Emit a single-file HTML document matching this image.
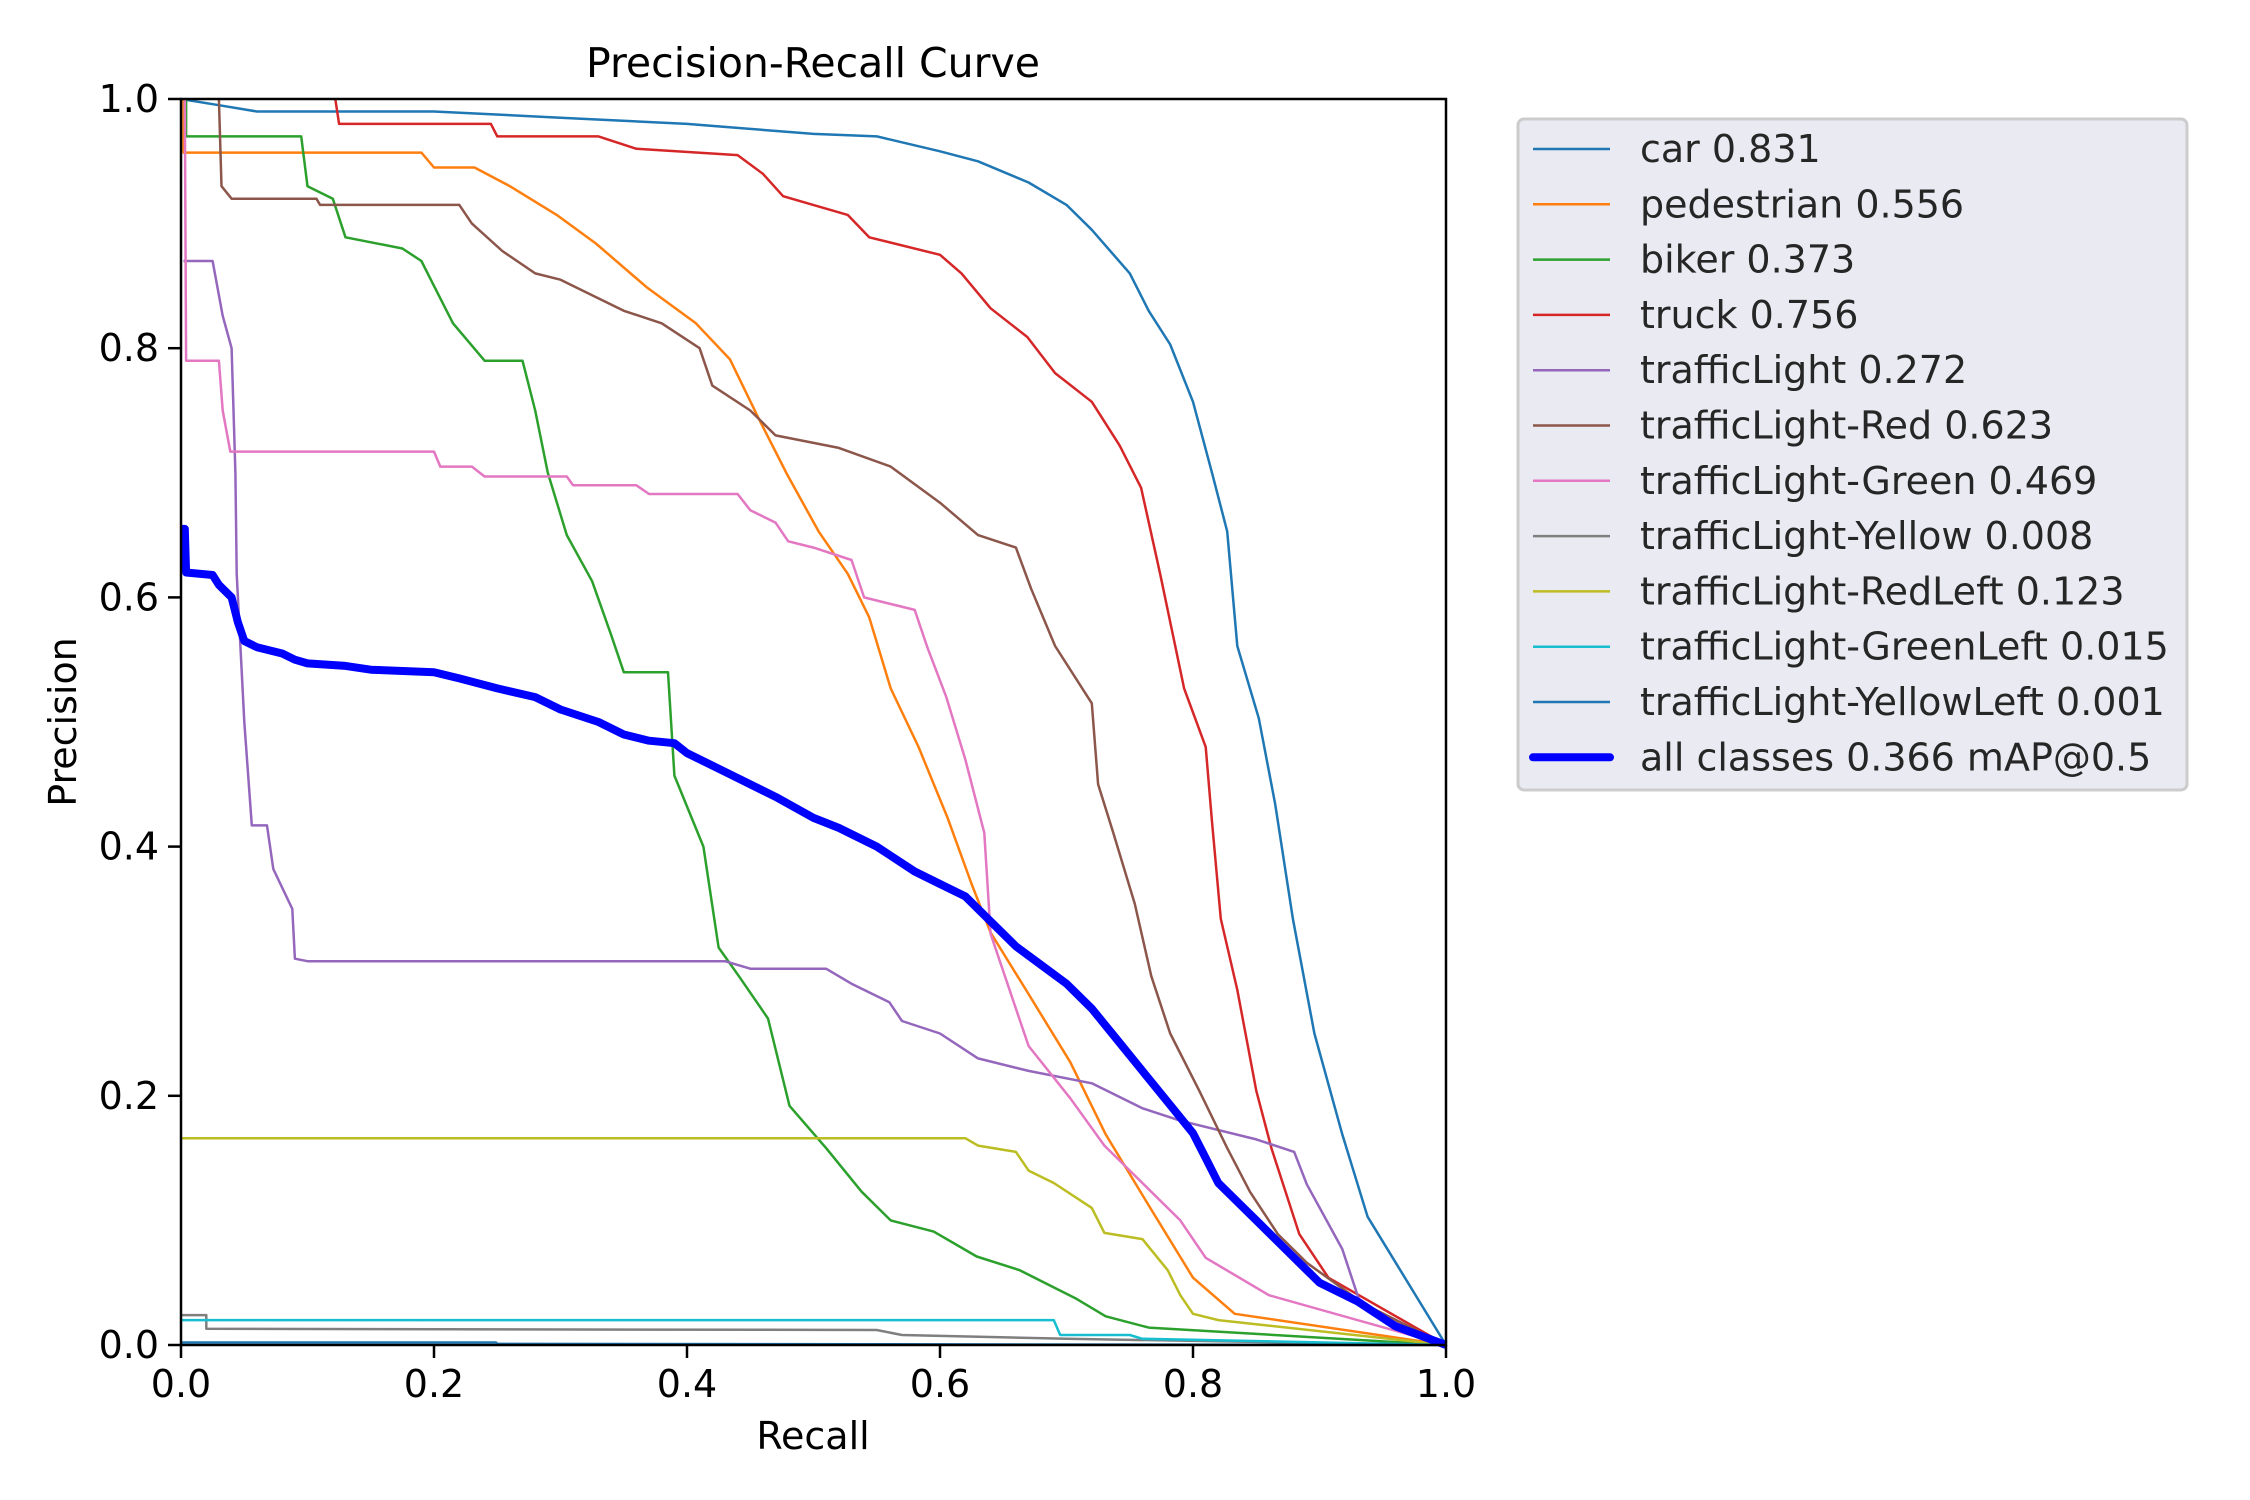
<!DOCTYPE html>
<html><head><meta charset="utf-8"><style>
html,body{margin:0;padding:0;background:#fff}
svg{display:block;font-family:"DejaVu Sans","Liberation Sans",sans-serif}
</style></head><body>
<svg id="chart" width="2250" height="1500" viewBox="0 0 2250 1500" xmlns="http://www.w3.org/2000/svg">
<rect width="2250" height="1500" fill="#fff"/>
<text x="813" y="77" font-size="41" text-anchor="middle" fill="#000">Precision-Recall Curve</text>
<g id="plot"></g>
<g id="axes"></g>
<text x="813" y="1449" font-size="38" text-anchor="middle">Recall</text>
<text x="0" y="0" font-size="38" text-anchor="middle" transform="translate(76,722) rotate(-90)">Precision</text>
<g id="legend"></g>
</svg>
<script>
const ticks = [0, 0.2, 0.4, 0.6, 0.8, 1.0];
const tickLabels = ["0.0", "0.2", "0.4", "0.6", "0.8", "1.0"];
const seriesNames = ["car 0.831","pedestrian 0.556","biker 0.373","truck 0.756","trafficLight 0.272","trafficLight-Red 0.623","trafficLight-Green 0.469","trafficLight-Yellow 0.008","trafficLight-RedLeft 0.123","trafficLight-GreenLeft 0.015","trafficLight-YellowLeft 0.001","all classes 0.366 mAP@0.5"];
const carPts = [[0,1],[0.03,0.995],[0.06,0.99],[0.2,0.99],[0.3,0.985],[0.4,0.98],[0.5,0.972],[0.55,0.97],[0.6,0.958],[0.63,0.95],[0.67,0.933],[0.7,0.915],[0.72,0.895],[0.75,0.86],[0.765,0.83],[0.782,0.803],[0.8,0.757],[0.815,0.7],[0.827,0.653],[0.835,0.561],[0.852,0.503],[0.865,0.434],[0.879,0.342],[0.896,0.25],[0.918,0.169],[0.938,0.103],[1,0]];
const pedPts = [[0.002,1],[0.002,0.957],[0.19,0.957],[0.2,0.945],[0.232,0.945],[0.26,0.93],[0.297,0.907],[0.328,0.884],[0.368,0.849],[0.407,0.82],[0.434,0.791],[0.456,0.745],[0.479,0.699],[0.504,0.653],[0.527,0.619],[0.544,0.584],[0.561,0.527],[0.583,0.48],[0.606,0.423],[0.625,0.37],[0.64,0.331],[0.668,0.285],[0.703,0.227],[0.731,0.169],[0.765,0.112],[0.8,0.054],[0.833,0.025],[1,0]];
const bikerPts = [[0.004,1],[0.004,0.97],[0.095,0.97],[0.1,0.93],[0.12,0.92],[0.13,0.889],[0.175,0.88],[0.19,0.87],[0.2,0.85],[0.215,0.82],[0.24,0.79],[0.27,0.79],[0.28,0.75],[0.29,0.7],[0.305,0.65],[0.325,0.613],[0.34,0.57],[0.35,0.54],[0.385,0.54],[0.39,0.457],[0.413,0.4],[0.425,0.319],[0.441,0.296],[0.464,0.262],[0.481,0.192],[0.51,0.158],[0.538,0.123],[0.561,0.1],[0.595,0.091],[0.629,0.071],[0.663,0.06],[0.708,0.037],[0.731,0.023],[0.765,0.014],[1,0]];
const truckPts = [[0.122,1],[0.125,0.98],[0.245,0.98],[0.25,0.97],[0.33,0.97],[0.36,0.96],[0.44,0.955],[0.46,0.94],[0.476,0.922],[0.527,0.907],[0.544,0.889],[0.6,0.875],[0.617,0.86],[0.64,0.832],[0.669,0.809],[0.691,0.78],[0.72,0.757],[0.742,0.722],[0.759,0.688],[0.774,0.619],[0.793,0.527],[0.81,0.48],[0.815,0.42],[0.822,0.342],[0.835,0.285],[0.85,0.204],[0.862,0.158],[0.884,0.089],[0.907,0.054],[1,0]];
const tlPts = [[0.002,0.87],[0.025,0.87],[0.033,0.826],[0.04,0.8],[0.043,0.7],[0.044,0.619],[0.05,0.5],[0.056,0.417],[0.068,0.417],[0.073,0.382],[0.088,0.35],[0.09,0.31],[0.1,0.308],[0.43,0.308],[0.45,0.302],[0.51,0.302],[0.53,0.29],[0.56,0.275],[0.57,0.26],[0.6,0.25],[0.63,0.23],[0.67,0.22],[0.72,0.21],[0.76,0.19],[0.79,0.18],[0.85,0.165],[0.88,0.155],[0.89,0.129],[0.918,0.077],[0.933,0.031],[1,0]];
const redPts = [[0.03,1],[0.032,0.93],[0.04,0.92],[0.107,0.92],[0.11,0.915],[0.22,0.915],[0.23,0.9],[0.254,0.878],[0.28,0.86],[0.3,0.855],[0.33,0.84],[0.35,0.83],[0.38,0.82],[0.41,0.8],[0.42,0.77],[0.45,0.75],[0.47,0.73],[0.52,0.72],[0.561,0.705],[0.6,0.676],[0.63,0.65],[0.66,0.64],[0.672,0.607],[0.691,0.561],[0.72,0.515],[0.725,0.45],[0.737,0.411],[0.754,0.354],[0.767,0.296],[0.782,0.25],[0.805,0.204],[0.827,0.158],[0.845,0.123],[0.867,0.089],[0.89,0.066],[0.935,0.033],[1,0]];
const greenPts = [[0.003,1],[0.004,0.79],[0.03,0.79],[0.033,0.75],[0.039,0.717],[0.2,0.717],[0.205,0.705],[0.23,0.705],[0.24,0.697],[0.305,0.697],[0.31,0.69],[0.36,0.69],[0.37,0.683],[0.44,0.683],[0.45,0.67],[0.47,0.66],[0.48,0.645],[0.5,0.64],[0.53,0.63],[0.54,0.6],[0.58,0.59],[0.59,0.56],[0.605,0.52],[0.62,0.47],[0.635,0.411],[0.64,0.33],[0.66,0.27],[0.67,0.24],[0.703,0.198],[0.73,0.16],[0.76,0.13],[0.79,0.1],[0.81,0.07],[0.86,0.04],[1,0]];
const yellowPts = [[0,0.024],[0.02,0.024],[0.02,0.013],[0.55,0.012],[0.57,0.008],[0.7,0.005],[1,0]];
const redLeftPts = [[0,0.166],[0.62,0.166],[0.63,0.16],[0.66,0.155],[0.67,0.14],[0.69,0.13],[0.72,0.11],[0.73,0.09],[0.76,0.085],[0.78,0.06],[0.79,0.04],[0.8,0.025],[0.82,0.02],[1,0]];
const greenLeftPts = [[0,0.02],[0.69,0.02],[0.695,0.008],[0.75,0.008],[0.76,0.005],[1,0]];
const yellowLeftPts = [[0,0.002],[0.249,0.002],[0.25,0.001],[1,0]];
const allPts = [[0,0.655],[0.003,0.655],[0.004,0.62],[0.025,0.618],[0.03,0.61],[0.04,0.6],[0.045,0.58],[0.05,0.565],[0.06,0.56],[0.08,0.555],[0.09,0.55],[0.1,0.547],[0.13,0.545],[0.15,0.542],[0.2,0.54],[0.22,0.535],[0.25,0.527],[0.28,0.52],[0.3,0.51],[0.33,0.5],[0.35,0.49],[0.37,0.485],[0.39,0.483],[0.4,0.475],[0.43,0.46],[0.47,0.44],[0.5,0.423],[0.52,0.415],[0.55,0.4],[0.58,0.38],[0.6,0.37],[0.62,0.36],[0.64,0.34],[0.66,0.32],[0.68,0.305],[0.7,0.29],[0.72,0.27],[0.74,0.245],[0.76,0.22],[0.78,0.195],[0.8,0.17],[0.81,0.15],[0.82,0.13],[0.85,0.1],[0.88,0.07],[0.9,0.05],[0.93,0.035],[0.96,0.015],[1,0]];
const allSeries = [carPts,pedPts,bikerPts,truckPts,tlPts,redPts,greenPts,yellowPts,redLeftPts,greenLeftPts,yellowLeftPts,allPts];
const colors = ["#1f77b4","#ff7f0e","#2ca02c","#d62728","#9467bd","#8c564b","#e377c2","#7f7f7f","#bcbd22","#17becf","#1f77b4","#0000ff"];
const slugs = ["car","pedestrian","biker","truck","traffic-light","traffic-light-red","traffic-light-green","traffic-light-yellow","traffic-light-redleft","traffic-light-greenleft","traffic-light-yellowleft","all-classes"];

const L=181,R=1446,T=99,B=1345;
const xs = v => L + v*(R-L);
const ys = v => B - v*(B-T);
const NS="http://www.w3.org/2000/svg";
const plot=document.getElementById('plot');
allSeries.forEach((pts,i)=>{
  const p=document.createElementNS(NS,'polyline');
  p.setAttribute('points',pts.map(d=>xs(d[0]).toFixed(1)+','+ys(d[1]).toFixed(1)).join(' '));
  p.setAttribute('fill','none');
  p.setAttribute('stroke',colors[i]);
  p.setAttribute('stroke-width',i===11?8:2.5);
  p.setAttribute('stroke-linejoin','round');
  
  
  plot.appendChild(p);
});
const axes=document.getElementById('axes');
const frame=document.createElementNS(NS,'rect');
frame.setAttribute('x',L);frame.setAttribute('y',T);frame.setAttribute('width',R-L);frame.setAttribute('height',B-T);
frame.setAttribute('fill','none');frame.setAttribute('stroke','#000');frame.setAttribute('stroke-width',2.5);


axes.appendChild(frame);
ticks.forEach((t,i)=>{
  const tx=document.createElementNS(NS,'line');
  tx.setAttribute('x1',xs(t));tx.setAttribute('x2',xs(t));tx.setAttribute('y1',B);tx.setAttribute('y2',B+13);
  tx.setAttribute('stroke','#000');tx.setAttribute('stroke-width',2.5);
  
  
  axes.appendChild(tx);
  const lx=document.createElementNS(NS,'text');
  lx.setAttribute('x',xs(t));lx.setAttribute('y',B+52);lx.setAttribute('font-size',38);lx.setAttribute('text-anchor','middle');
  lx.textContent=tickLabels[i];
  
  
  axes.appendChild(lx);
  const ty=document.createElementNS(NS,'line');
  ty.setAttribute('x1',L-13);ty.setAttribute('x2',L);ty.setAttribute('y1',ys(t));ty.setAttribute('y2',ys(t));
  ty.setAttribute('stroke','#000');ty.setAttribute('stroke-width',2.5);
  
  
  axes.appendChild(ty);
  const ly=document.createElementNS(NS,'text');
  ly.setAttribute('x',L-22);ly.setAttribute('y',ys(t)+13);ly.setAttribute('font-size',38);ly.setAttribute('text-anchor','end');
  ly.textContent=tickLabels[i];
  
  
  axes.appendChild(ly);
});
const leg=document.getElementById('legend');
const box=document.createElementNS(NS,'rect');
box.setAttribute('x',1518);box.setAttribute('y',119);box.setAttribute('width',669);box.setAttribute('height',671);
box.setAttribute('rx',6);box.setAttribute('fill','#eaeaf2');box.setAttribute('stroke','#cccccc');box.setAttribute('stroke-width',3);


leg.appendChild(box);
seriesNames.forEach((n,i)=>{
  const y=149+i*55.3;
  const g=document.createElementNS(NS,'g');
  
  
  const ln=document.createElementNS(NS,'line');
  ln.setAttribute('x1',1533);ln.setAttribute('x2',1610);ln.setAttribute('y1',y);ln.setAttribute('y2',y);
  ln.setAttribute('stroke',colors[i]);ln.setAttribute('stroke-width',i===11?8:2.5);ln.setAttribute('stroke-linecap',i===11?'round':'butt');
  g.appendChild(ln);
  const tx=document.createElementNS(NS,'text');
  tx.setAttribute('x',1640);tx.setAttribute('y',y+13);tx.setAttribute('font-size',38);tx.setAttribute('fill','#262626');
  tx.textContent=n;
  g.appendChild(tx);
  leg.appendChild(g);
});
</script>
</body></html>
